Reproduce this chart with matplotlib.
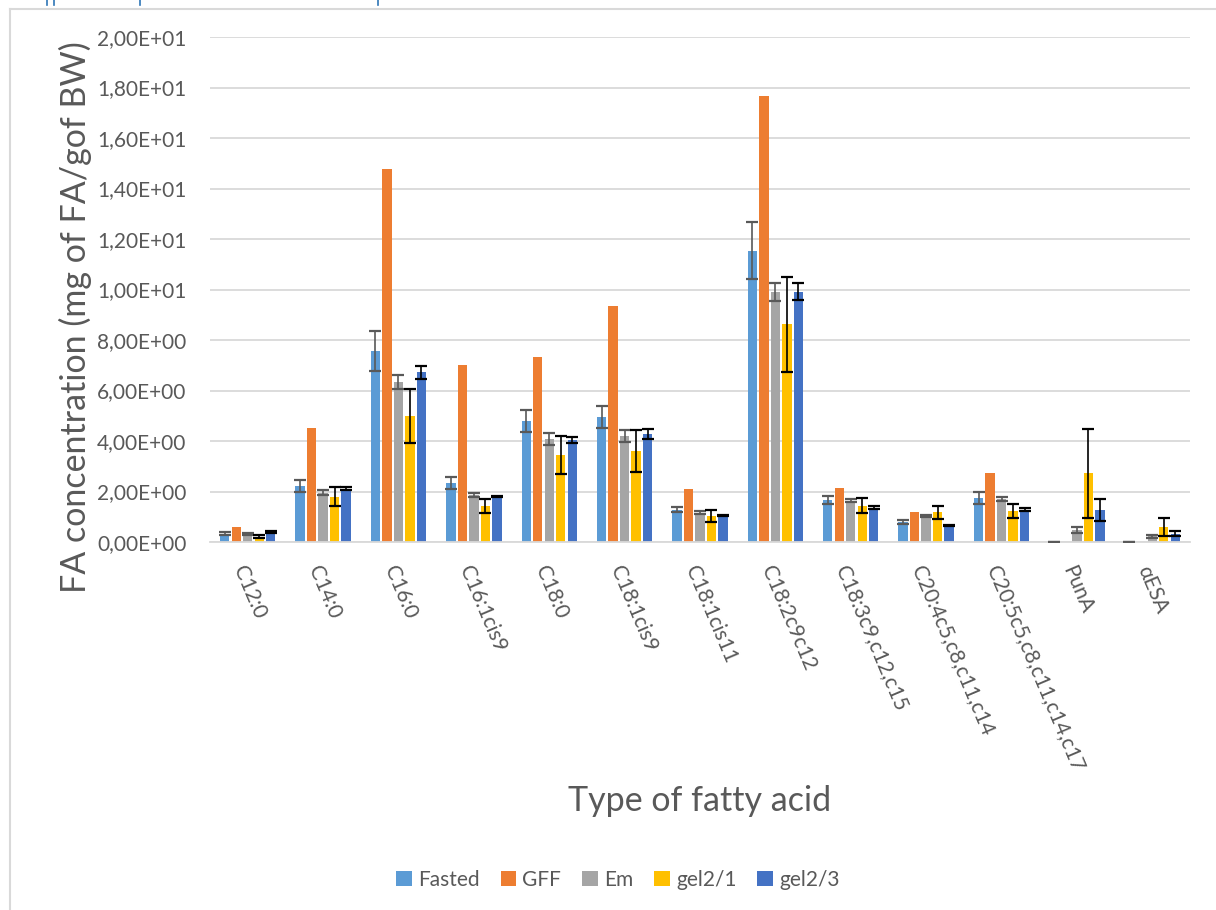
import matplotlib
matplotlib.use("Agg")
import matplotlib.pyplot as plt
from matplotlib.lines import Line2D
import numpy as np

plt.rcParams['font.family'] = ['Lato', 'DejaVu Sans']

categories = ["C12:0", "C14:0", "C16:0", "C16:1cis9", "C18:0", "C18:1cis9",
              "C18:1cis11", "C18:2c9c12", "C18:3c9,c12,c15", "C20:4c5,c8,c11,c14",
              "C20:5c5,c8,c11,c14,c17", "PunA", "αESA"]
series_names = ["Fasted", "GFF", "Em", "gel2/1", "gel2/3"]

fasted = [0.33, 2.23, 7.56, 2.34, 4.79, 4.95, 1.27, 11.54, 1.66, 0.80, 1.75, 0.00, 0.00]
fasted_err = [0.07, 0.23, 0.80, 0.25, 0.42, 0.45, 0.10, 1.14, 0.17, 0.08, 0.24, 0.00, 0.00]
gff = [0.61, 4.50, 14.77, 7.01, 7.33, 9.33, 2.09, 17.66, 2.15, 1.20, 2.74, 0.00, 0.00]
em = [0.31, 1.96, 6.34, 1.88, 4.07, 4.20, 1.16, 9.89, 1.64, 1.03, 1.71, 0.49, 0.22]
em_err = [0.04, 0.10, 0.29, 0.08, 0.24, 0.22, 0.07, 0.35, 0.05, 0.03, 0.09, 0.12, 0.06]
gel21 = [0.21, 1.80, 5.00, 1.43, 3.45, 3.60, 1.03, 8.62, 1.43, 1.18, 1.22, 2.72, 0.61]
gel21_err = [0.05, 0.37, 1.07, 0.27, 0.76, 0.83, 0.22, 1.87, 0.30, 0.26, 0.27, 1.76, 0.36]
gel23 = [0.38, 2.10, 6.73, 1.80, 4.04, 4.28, 1.04, 9.91, 1.36, 0.66, 1.28, 1.27, 0.32]
gel23_err = [0.04, 0.06, 0.26, 0.03, 0.13, 0.19, 0.03, 0.34, 0.07, 0.03, 0.05, 0.45, 0.10]

y_ticks = [0, 2, 4, 6, 8, 10, 12, 14, 16, 18, 20]
y_tick_labels = ["0,00E+00", "2,00E+00", "4,00E+00", "6,00E+00", "8,00E+00",
                 "1,00E+01", "1,20E+01", "1,40E+01", "1,60E+01", "1,80E+01", "2,00E+01"]

colors = ["#5B9BD5", "#ED7D31", "#A5A5A5", "#FFC000", "#4472C4"]
err_colors = ["#595959", None, "#595959", "#000000", "#000000"]
text_grey = "#595959"
grid_grey = "#D9D9D9"

values = [fasted, gff, em, gel21, gel23]
errors = [fasted_err, None, em_err, gel21_err, gel23_err]

fig = plt.figure(figsize=(12.16, 9.10), dpi=100)
ax = fig.add_axes([210 / 1216, 1 - 542 / 910, 980 / 1216, 505 / 910])

x = np.arange(len(categories))
step = 0.1525
width = 0.124
for i, (name, vals, errs) in enumerate(zip(series_names, values, errors)):
    pos = x + (i - 2) * step
    ax.bar(pos, vals, width=width, color=colors[i], label=name, zorder=2)
    if errs is not None:
        ax.errorbar(pos, vals, yerr=errs, fmt='none', ecolor=err_colors[i],
                    elinewidth=1.2, capsize=4.4, capthick=1.6, zorder=3)

ax.set_xlim(-0.5, len(categories) - 0.5)
ax.set_ylim(0, 20)
ax.set_yticks(y_ticks)
ax.set_yticklabels(y_tick_labels)
ax.yaxis.grid(True, color=grid_grey, linewidth=1.3, zorder=0)
ax.set_axisbelow(True)
for side in ["top", "right", "left"]:
    ax.spines[side].set_visible(False)
ax.spines["bottom"].set_color(grid_grey)
ax.spines["bottom"].set_linewidth(1.3)
ax.tick_params(axis='y', length=0, pad=17, labelsize=15, labelcolor=text_grey)
ax.tick_params(axis='x', length=0, pad=15, labelsize=15, labelcolor=text_grey)
ax.set_xticks(x)
ax.set_xticklabels(categories, rotation=-67, rotation_mode='anchor',
                   ha='left', va='top')

fig.text(75 / 1216, 1 - 317 / 910, "FA concentration (mg of FA/gof BW)",
         rotation=90, ha='center', va='center', fontsize=24.5, color=text_grey)
fig.text(700 / 1216, 1 - 801 / 910, "Type of fatty acid",
         ha='center', va='center', fontsize=24.5, color=text_grey)

fig.legend(loc='center', bbox_to_anchor=(618 / 1216, 1 - 880 / 910), ncol=5,
           frameon=False, fontsize=15, handlelength=0.75, handleheight=0.75,
           handletextpad=0.3, columnspacing=1.0, labelcolor=text_grey)

# chart frame
fig.add_artist(Line2D([10 / 1216, 1.0], [1 - 8.5 / 910, 1 - 8.5 / 910],
                      transform=fig.transFigure, color=grid_grey, linewidth=1.5))
fig.add_artist(Line2D([10 / 1216, 10 / 1216], [0, 1 - 8.5 / 910],
                      transform=fig.transFigure, color=grid_grey, linewidth=1.5))
# caption descenders cut off above the frame
for px in [47, 54, 140, 378]:
    fig.add_artist(Line2D([px / 1216, px / 1216], [1.0, 1 - 5 / 910],
                          transform=fig.transFigure, color="#2E75B6", linewidth=1.2))

fig.savefig("out.png", dpi=100, facecolor="white")
